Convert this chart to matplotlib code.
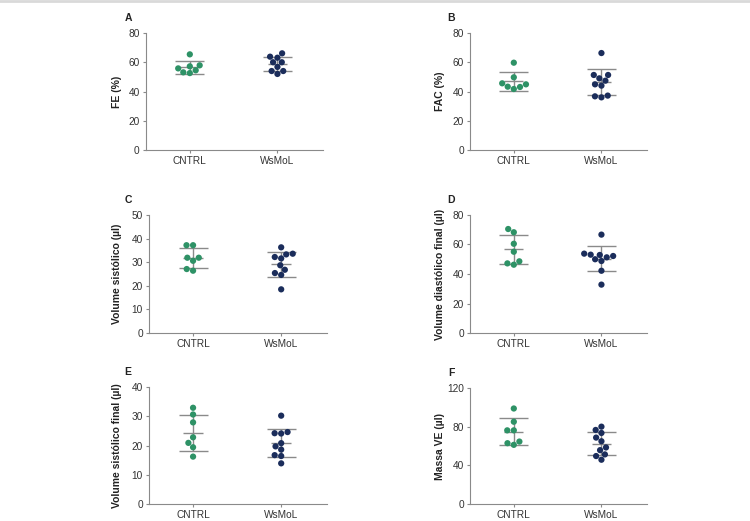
import numpy as np
import pandas as pd
import matplotlib.pyplot as plt
import seaborn as sns
from matplotlib.lines import Line2D

plt.rcParams['font.family'] = ['Liberation Sans Narrow', 'Liberation Sans', 'DejaVu Sans']

groups = ['CNTRL', 'WsMoL']
green = '#2e9266'
navy = '#1b2d5b'
grey = '#8a8a8a'

# values (one point per animal)
fe_cntrl = [65.4, 57.9, 57.2, 55.8, 54.5, 53.1, 52.6]
fe_wsmol = [66.1, 63.8, 63.1, 60.0, 60.0, 56.8, 54.0, 54.0, 52.0]

fac_cntrl = [59.7, 49.7, 45.6, 44.9, 43.3, 43.1, 41.7]
fac_wsmol = [66.3, 51.3, 51.3, 49.0, 47.4, 44.9, 44.0, 37.2, 36.7, 36.0]

vs_cntrl = [37.2, 37.2, 31.9, 31.9, 30.6, 27.1, 26.4]
vs_wsmol = [36.3, 33.6, 33.3, 32.2, 31.6, 28.7, 26.8, 25.4, 24.6, 18.5]

vdf_cntrl = [70.5, 68.3, 60.5, 55.1, 48.6, 47.2, 46.3]
vdf_wsmol = [66.7, 53.8, 53.1, 52.9, 52.2, 51.3, 50.0, 48.8, 42.2, 32.8]

vsf_cntrl = [32.9, 30.6, 27.9, 22.8, 20.9, 19.4, 16.2]
vsf_wsmol = [30.2, 24.6, 24.2, 24.1, 20.8, 19.7, 18.6, 16.7, 16.4, 13.9]

mve_cntrl = [98.8, 85.1, 76.2, 76.2, 64.6, 62.9, 61.2]
mve_wsmol = [80.0, 76.6, 73.5, 68.7, 64.9, 58.5, 55.7, 51.3, 49.6, 45.8]

panels = [
    ('A', 'FE (%)', fe_cntrl, fe_wsmol, 80, 20),
    ('B', 'FAC (%)', fac_cntrl, fac_wsmol, 80, 20),
    ('C', 'Volume sistólico (µl)', vs_cntrl, vs_wsmol, 50, 10),
    ('D', 'Volume diastólico final (µl)', vdf_cntrl, vdf_wsmol, 80, 20),
    ('E', 'Volume sistólico final (µl)', vsf_cntrl, vsf_wsmol, 40, 10),
    ('F', 'Massa VE (µl)', mve_cntrl, mve_wsmol, 120, 40),
]

W, H = 750, 521
# axes boxes in pixels: left, top, right, bottom
boxes = [
    (146, 33, 323, 150), (470, 33, 647, 150),
    (149, 215, 327, 333), (470, 215, 647, 333),
    (149, 387, 327, 504), (470, 388, 647, 504),
]

fig = plt.figure(figsize=(W / 100, H / 100), dpi=100)
fig.add_artist(Line2D([0, 1], [0.999, 0.999], transform=fig.transFigure,
                      color='#d9d9d9', lw=2))

for (letter, ylab, c, w, ymax, ystep), (l, t, r, b) in zip(panels, boxes):
    ax = fig.add_axes([l / W, 1 - b / H, (r - l) / W, (b - t) / H])
    df = pd.DataFrame({'grupo': ['CNTRL'] * len(c) + ['WsMoL'] * len(w),
                       'valor': c + w})
    sns.swarmplot(data=df, x='grupo', y='valor', hue='grupo', order=groups,
                  palette=[green, navy], size=4.5, linewidth=0, ax=ax,
                  legend=False, zorder=3)

    for i, vals in enumerate([c, w]):
        m = np.mean(vals)
        sd = np.std(vals, ddof=1)
        ax.hlines([m - sd, m + sd], i - 0.165, i + 0.165, color=grey, lw=1, zorder=2)
        ax.hlines(m, i - 0.11, i + 0.11, color=grey, lw=1, zorder=2)
        ax.vlines(i, m - sd, m + sd, color=grey, lw=1, zorder=2)

    ax.set_xlim(-0.5, 1.52)
    ax.set_ylim(0, ymax)
    ax.set_yticks(np.arange(0, ymax + 1, ystep))
    ax.set_xlabel('')
    ax.set_ylabel(ylab, fontsize=7.5, fontweight='bold', color='#222222')
    lx = (122 - l) / (r - l) if l < 300 else (445 - l) / (r - l)
    ax.yaxis.set_label_coords(lx, 0.5)
    for s in ['top', 'right']:
        ax.spines[s].set_visible(False)
    for s in ['left', 'bottom']:
        ax.spines[s].set_color(grey)
        ax.spines[s].set_linewidth(0.8)
    ax.tick_params(axis='both', colors=grey, length=2.5, width=0.8,
                   labelsize=7.3, labelcolor='#333333', pad=2)
    ax.tick_params(axis='x', pad=2)

    px = 128 if l < 300 else 451
    ax.text((px - l) / (r - l), 1 + 15 / (b - t), letter, transform=ax.transAxes,
            fontsize=7.5, fontweight='bold', ha='center', va='center', color='#222222')

fig.savefig('out.png', dpi=100)
